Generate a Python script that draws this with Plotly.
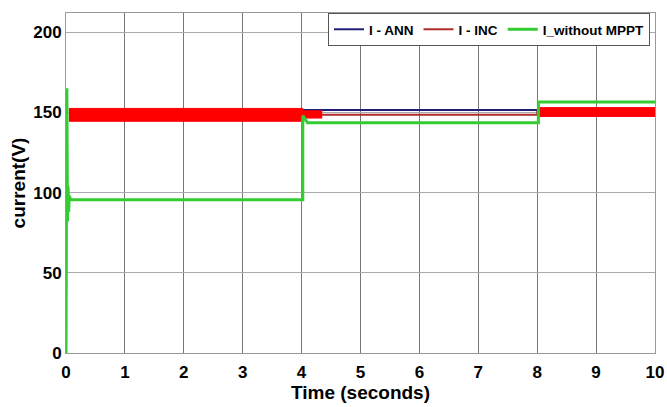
import plotly.graph_objects as go

# ---- data ----
ann_t = [0.05, 4.0, 8.0, 10.0]
ann_i = [151.5, 151.5, 151.5, 151.5]

inc_t = [0.05, 4.0, 4.35, 8.0, 8.0, 10.0]
inc_i = [148.5, 148.5, 148.5, 148.5, 150.5, 150.5]

# oscillation envelope of the INC current (thick red band)
band1_t = [0.05, 4.02, 4.02, 4.35]
band1_hi = [152.5, 152.5, 151.0, 151.0]
band1_lo = [144.5, 144.5, 146.5, 146.5]
band2_t = [8.02, 10.0]
band2_hi = [153.0, 153.0]
band2_lo = [147.5, 147.5]

green_t = [0.0, 0.015, 0.025, 0.035, 0.045, 0.055, 0.08, 4.02, 4.02, 4.1, 8.02, 8.02, 10.0]
green_i = [0.0, 165.0, 82.0, 104.0, 88.0, 98.0, 95.5, 95.5, 148.0, 143.5, 143.5, 156.5, 156.5]

x_ticks = list(range(0, 11))
y_ticks = [0, 50, 100, 150, 200]

fig = go.Figure()
fig.add_trace(go.Scatter(x=ann_t, y=ann_i, mode="lines", name="I - ANN",
                         line=dict(color="#1f1f7a", width=2)))
fig.add_trace(go.Scatter(x=inc_t, y=inc_i, mode="lines", name="I - INC",
                         line=dict(color="#b22a2a", width=2)))
for bt, bh, bl in [(band1_t, band1_hi, band1_lo), (band2_t, band2_hi, band2_lo)]:
    fig.add_trace(go.Scatter(x=bt, y=bh, mode="lines", line=dict(color="#ff0000", width=1),
                             showlegend=False, hoverinfo="skip"))
    fig.add_trace(go.Scatter(x=bt, y=bl, mode="lines", line=dict(color="#ff0000", width=1),
                             fill="tonexty", fillcolor="#ff0000",
                             showlegend=False, hoverinfo="skip"))
fig.add_trace(go.Scatter(x=green_t, y=green_i, mode="lines", name="I_without MPPT",
                         line=dict(color="#33cc33", width=3)))

ff = "Arial, Liberation Sans, sans-serif"

fig.update_layout(
    width=667, height=407,
    margin=dict(l=66, r=12, t=13, b=54),
    paper_bgcolor="white", plot_bgcolor="white",
    font=dict(family=ff, size=15, color="black"),
    showlegend=True,
    legend=dict(orientation="h", traceorder="normal",
                x=0.9915, xanchor="right", y=1.0, yanchor="top",
                bgcolor="white", bordercolor="#555", borderwidth=1,
                font=dict(family=ff, size=13.5, color="black", weight="bold"),
                itemwidth=30, tracegroupgap=0),
    xaxis=dict(range=[0, 10], tickvals=x_ticks, ticktext=[str(v) for v in x_ticks],
               showgrid=True, gridcolor="#777", gridwidth=1,
               showline=True, linecolor="#999", linewidth=1, mirror=True,
               ticks="", zeroline=False, automargin=False, ticklabelstandoff=4,
               tickfont=dict(family=ff, size=17, weight="bold"),
               title=dict(text="Time (seconds)", font=dict(family=ff, size=19, weight="bold"),
                          standoff=1)),
    yaxis=dict(range=[0, 212], tickvals=y_ticks, ticktext=[str(v) for v in y_ticks],
               showgrid=True, gridcolor="#aaa", gridwidth=1,
               showline=True, linecolor="#999", linewidth=1, mirror=True,
               ticks="", zeroline=False, automargin=False,
               tickfont=dict(family=ff, size=17, weight="bold"),
               title=dict(text="current(V)", font=dict(family=ff, size=19, weight="bold"),
                          standoff=2)),
)

fig.write_html("out.html", config={"displayModeBar": False},
               post_script="document.body.style.margin='0';document.body.style.overflow='hidden';")
